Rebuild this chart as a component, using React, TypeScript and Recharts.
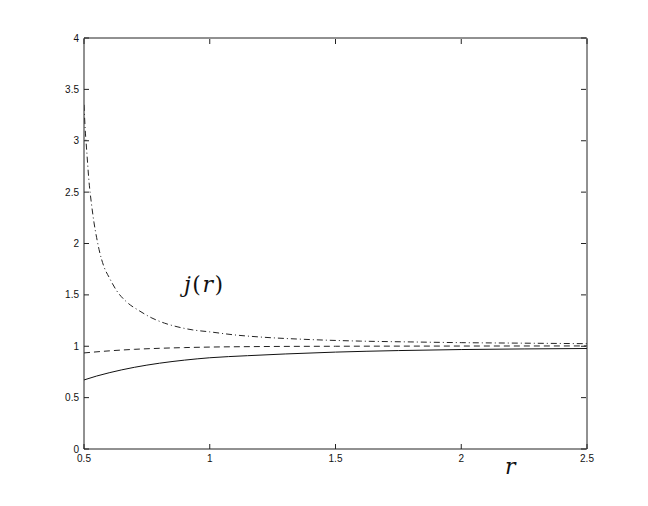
import { LineChart, Line, XAxis, YAxis } from 'recharts'

// j(r) curves
const solidR = [0.5, 0.55, 0.6, 0.7, 0.8, 0.9, 1.0, 1.15, 1.3, 1.5, 1.75, 2.0, 2.25, 2.5]
const solidJ = [0.672, 0.71, 0.742, 0.795, 0.835, 0.865, 0.888, 0.908, 0.925, 0.943, 0.958, 0.968, 0.974, 0.978]

const dashR = [0.5, 0.6, 0.7, 0.8, 0.9, 1.0, 1.2, 1.5, 2.0, 2.5]
const dashJ = [0.935, 0.955, 0.97, 0.98, 0.987, 0.992, 0.997, 1.0, 1.002, 1.003]

const dotR = [0.5, 0.505, 0.51, 0.52, 0.53, 0.54, 0.55, 0.56, 0.58, 0.6, 0.63, 0.67, 0.72, 0.77, 0.82, 0.87, 0.93, 1.0, 1.1, 1.2, 1.4, 1.6, 1.8, 2.0, 2.25, 2.5]
const dotJ = [3.35, 3.1, 2.93, 2.6, 2.38, 2.2, 2.06, 1.94, 1.77, 1.67, 1.54, 1.43, 1.345, 1.275, 1.225, 1.19, 1.16, 1.14, 1.11, 1.09, 1.065, 1.05, 1.042, 1.035, 1.03, 1.025]

const xTicks = [0.5, 1, 1.5, 2, 2.5]
const yTicks = [0, 0.5, 1, 1.5, 2, 2.5, 3, 3.5, 4]

const toPts = (rs: number[], js: number[]) => rs.map((r, i) => ({ r, j: js[i] }))

const AX = '#222'
const TICK_FONT = { fontFamily: 'Liberation Sans, Arial, sans-serif', fontSize: 10, fill: '#111' }

const BottomTick = (p: any) => (
  <g>
    <line x1={p.x} y1={p.y} x2={p.x} y2={p.y - 5} stroke={AX} />
    <text x={p.x} y={p.y + 13} textAnchor="middle" {...TICK_FONT}>{p.payload.value}</text>
  </g>
)
// top/right axes are 1px thick, so their tick origin sits on the frame line
const TopTick = (p: any) => <line x1={p.x} y1={p.y + 1} x2={p.x} y2={p.y + 6} stroke={AX} />
const LeftTick = (p: any) => (
  <g>
    <line x1={p.x} y1={p.y} x2={p.x + 5} y2={p.y} stroke={AX} />
    <text x={p.x - 5} y={p.y + 3.5} textAnchor="end" {...TICK_FONT}>{p.payload.value}</text>
  </g>
)
const RightTick = (p: any) => <line x1={p.x - 1} y1={p.y} x2={p.x - 6} y2={p.y} stroke={AX} />

export default function App() {
  const solid = toPts(solidR, solidJ)
  return (
    <div style={{ position: 'absolute', left: 0, top: 0, width: 648, height: 506, background: '#fff' }}>
      <LineChart width={648} height={506} margin={{ top: 37, right: 60, bottom: 0, left: 0 }}>
        <XAxis xAxisId="b" dataKey="r" type="number" domain={[0.5, 2.5]} ticks={xTicks} height={57}
          stroke={AX} tickLine={false} tickSize={0} tickMargin={0} tick={<BottomTick />} allowDataOverflow />
        <XAxis xAxisId="t" orientation="top" dataKey="r" type="number" domain={[0.5, 2.5]} ticks={xTicks} height={1}
          stroke={AX} tickLine={false} tickSize={0} tickMargin={0} tick={<TopTick />} allowDataOverflow />
        <YAxis yAxisId="l" type="number" domain={[0, 4]} ticks={yTicks} width={84}
          stroke={AX} tickLine={false} tickSize={0} tickMargin={0} tick={<LeftTick />} allowDataOverflow />
        <YAxis yAxisId="r" orientation="right" type="number" domain={[0, 4]} ticks={yTicks} width={1}
          stroke={AX} tickLine={false} tickSize={0} tickMargin={0} tick={<RightTick />} allowDataOverflow />
        {/* hidden series so the top/right frame axes get drawn */}
        <Line xAxisId="t" yAxisId="r" data={solid} dataKey="j" stroke="none" dot={false} isAnimationActive={false} />
        <Line xAxisId="b" yAxisId="l" data={solid} dataKey="j" type="monotone"
          stroke="#111" strokeWidth={1} dot={false} isAnimationActive={false} />
        <Line xAxisId="b" yAxisId="l" data={toPts(dashR, dashJ)} dataKey="j" type="monotone"
          stroke="#222" strokeWidth={1} strokeDasharray="6 4" dot={false} isAnimationActive={false} />
        <Line xAxisId="b" yAxisId="l" data={toPts(dotR, dotJ)} dataKey="j" type="monotone"
          stroke="#222" strokeWidth={1} strokeDasharray="6 3 1 3" dot={false} isAnimationActive={false} />
      </LineChart>
      <div style={{ position: 'absolute', left: 184, top: 272, fontFamily: 'DejaVu Serif, serif', fontSize: 22, color: '#111', letterSpacing: 1.5 }}>
        <i>j</i>(<i>r</i>)
      </div>
      <div style={{ position: 'absolute', left: 505, top: 454, fontFamily: 'DejaVu Serif, serif', fontSize: 22, color: '#111' }}>
        <i>r</i>
      </div>
    </div>
  )
}
